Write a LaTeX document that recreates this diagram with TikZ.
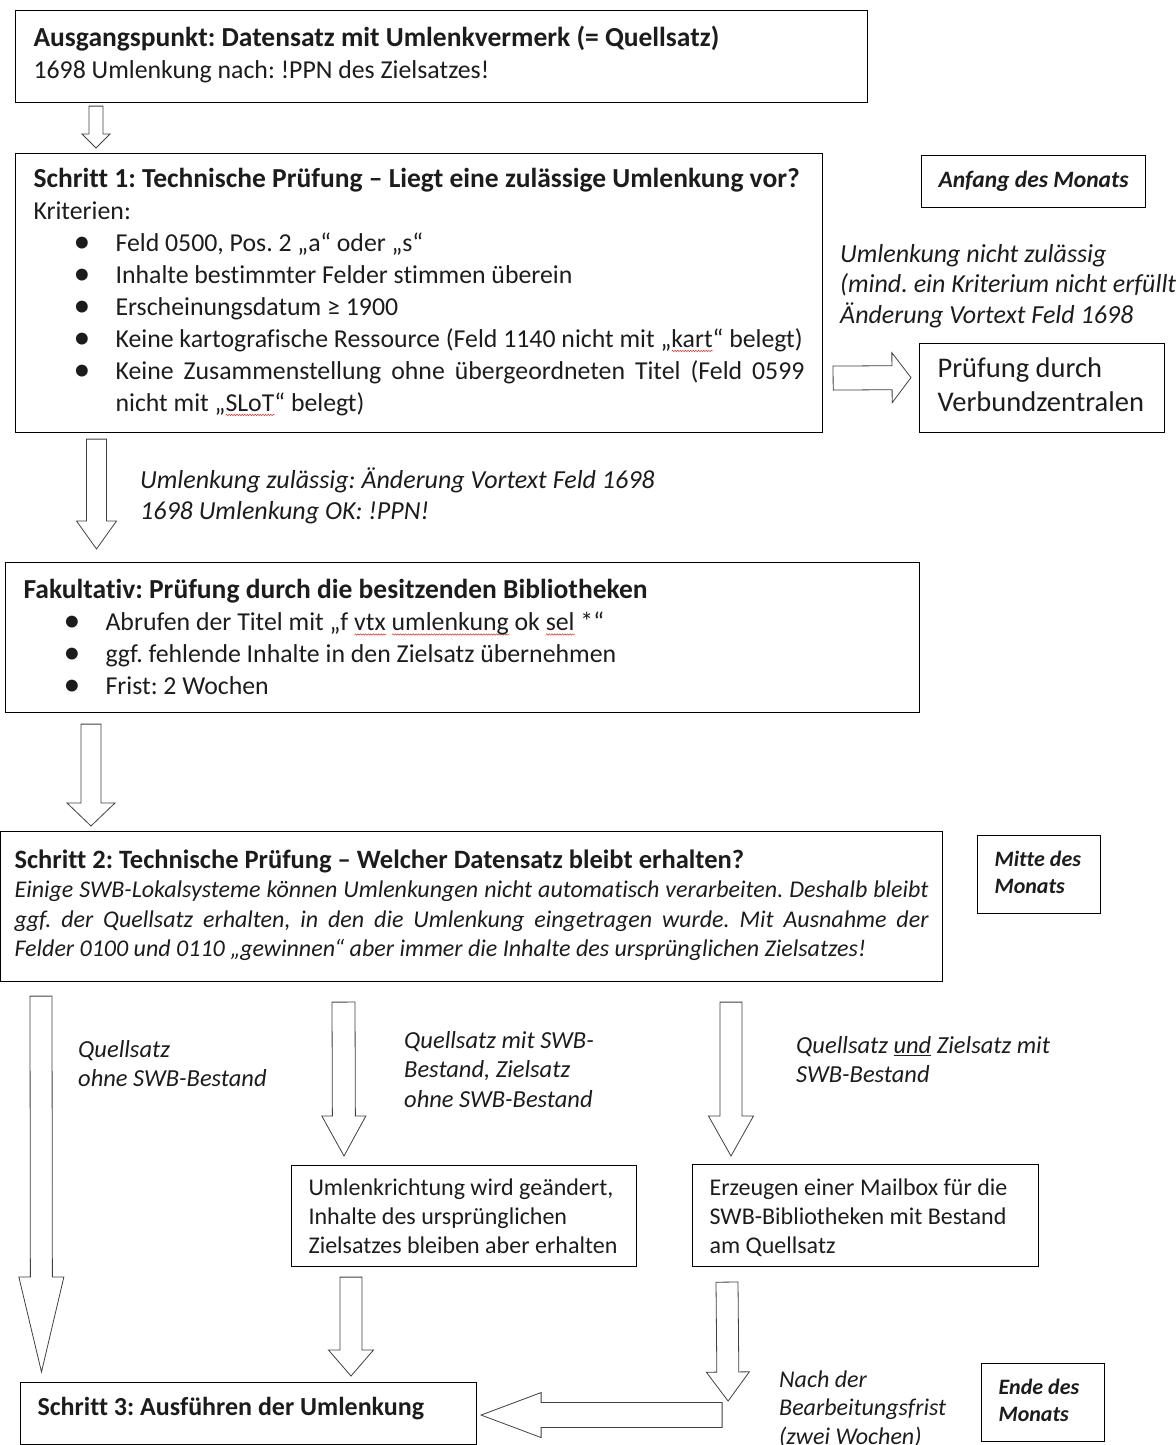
\documentclass[tikz,border=0pt]{standalone}
\usepackage{fontspec}
\setmainfont[Ligatures={NoCommon}]{Carlito}
\frenchspacing
\usetikzlibrary{calc,positioning,decorations.pathmorphing}
\definecolor{ink}{RGB}{28,28,28}
\definecolor{arr}{RGB}{64,64,64}
\definecolor{spell}{RGB}{230,40,40}
% red squiggle of the spell checker
\newsavebox{\wordbox}
\newcommand{\squiggle}[1]{\sbox{\wordbox}{#1}\rlap{\tikz[baseline=0pt]\draw[spell,line width=0.5pt,decorate,
  decoration={snake,amplitude=0.7pt,segment length=2.6pt}] (0pt,-3.5pt) -- (\wd\wordbox,-3.5pt);}\usebox{\wordbox}}
% bullet line with hanging indent
\newcommand{\critem}[1]{\par\noindent\hangindent=82pt\hangafter=1\hspace*{40pt}\makebox[42pt][l]{\raisebox{-1pt}{\scalebox{1.3}{\textbullet}}}#1\par}
\newcommand{\headfont}{\bfseries\fontsize{27.5}{32}\selectfont}
% hollow block arrow: from, to, shaft half width, head half width, head length
\newcommand{\hollowarrow}[5]{%
  \coordinate (ha) at ($(#2)!#5!(#1)$);
  \draw[blockarrow] ($(#1)!#3!90:(#2)$) -- ($(ha)!#3!-90:(#1)$) -- ($(ha)!#4!-90:(#1)$)
    -- (#2) -- ($(ha)!#4!90:(#1)$) -- ($(ha)!#3!90:(#1)$) -- ($(#1)!#3!-90:(#2)$) -- cycle;}
\tikzset{
  panel/.style={draw=black,line width=1.1pt,anchor=north west,inner ysep=0pt,text=ink,
    font=\fontsize{25.8}{32}\selectfont},
  tag/.style={panel,inner xsep=17pt,align=flush left,font=\bfseries\itshape\fontsize{22}{27}\selectfont},
  note/.style={anchor=north west,inner sep=0pt,align=flush left,text=ink,font=\itshape\fontsize{24.5}{29}\selectfont},
  blockarrow/.style={draw=arr,fill=white,line width=0.8pt,line join=miter},
}
\begin{document}
\begin{tikzpicture}[x=1pt,y=-1pt]
\useasboundingbox (0,0) rectangle (1175,1445);

% boxes
\node[panel,inner xsep=18pt,minimum width=852pt,minimum height=92pt,text width=816pt,align=flush left]
  (start) at (15,10) {\strut{\headfont Ausgangspunkt: Datensatz mit Umlenkvermerk (= Quellsatz)}\\
  1698 Umlenkung nach: !PPN des Zielsatzes!\strut};

\node[panel,inner xsep=18pt,minimum width=807pt,minimum height=279pt,text width=771pt,align=justify]
  (crit) at (15,153) {\noindent\strut{\headfont Schritt 1: Technische Prüfung – Liegt eine zulässige Umlenkung vor?}\par
  \noindent Kriterien:\par
  \critem{Feld 0500, Pos. 2 „a“ oder „s“}
  \critem{Inhalte bestimmter Felder stimmen überein}
  \critem{Erscheinungsdatum ≥ 1900}
  \critem{Keine kartografische Ressource (Feld 1140 nicht mit „\squiggle{kart}“ belegt)}
  \critem{Keine Zusammenstellung ohne übergeordneten Titel (Feld 0599\linebreak nicht mit „\squiggle{SLoT}“ belegt)\strut}};

\node[tag,inner xsep=15pt,minimum width=224pt,minimum height=52pt,align=center,font=\bfseries\itshape\fontsize{23.5}{29}\selectfont]
  (anfang) at (921,155) {Anfang des Monats};

\node[panel,inner xsep=18pt,minimum width=245pt,minimum height=89pt,text width=209pt,align=flush left,
  font=\fontsize{28.5}{34}\selectfont] (verbund) at (919,343) {\strut Prüfung durch\\ Verbundzentralen\strut};

\node[panel,inner xsep=18pt,minimum width=914pt,minimum height=150pt,text width=878pt,align=flush left]
  (fakult) at (5,562) {\rule{0pt}{28.4pt}{\headfont Fakultativ: Prüfung durch die besitzenden Bibliotheken}\par
  \critem{Abrufen der Titel mit „f \squiggle{vtx} \squiggle{umlenkung} ok \squiggle{sel} *“}
  \critem{ggf. fehlende Inhalte in den Zielsatz übernehmen}
  \critem{Frist: 2 Wochen\strut}};

\node[panel,inner xsep=13pt,minimum width=942pt,minimum height=150pt,text width=914pt,align=justify,
  font=\fontsize{24}{29.5}\selectfont] (step2) at (0,831)
  {\noindent\strut{\bfseries\fontsize{26.5}{29.5}\selectfont Schritt 2: Technische Prüfung – Welcher Datensatz bleibt erhalten?}\par
  \noindent\itshape Einige SWB-Lokalsysteme können Umlenkungen nicht automatisch verarbeiten. Deshalb bleibt\linebreak
  ggf. der Quellsatz erhalten, in den die Umlenkung eingetragen wurde. Mit Ausnahme der\linebreak
  Felder 0100 und 0110 „gewinnen“ aber immer die Inhalte des ursprünglichen Zielsatzes!\strut};

\node[tag,minimum width=123pt,minimum height=78pt,text width=89pt] (mitte) at (977,835) {\strut Mitte des\\ Monats\strut};

\node[panel,inner xsep=17pt,minimum width=345pt,minimum height=101pt,text width=311pt,align=flush left,
  font=\fontsize{24}{29}\selectfont] (umlenk) at (291,1165)
  {\rule{0pt}{26.3pt}Umlenkrichtung wird geändert,\\ Inhalte des ursprünglichen\\ Zielsatzes bleiben aber erhalten\strut};

\node[panel,inner xsep=17pt,minimum width=346pt,minimum height=102pt,text width=312pt,align=flush left,
  font=\fontsize{24}{29}\selectfont] (mailbox) at (692,1164)
  {\rule{0pt}{26.3pt}Erzeugen einer Mailbox für die\\ SWB-Bibliotheken mit Bestand\\ am Quellsatz\strut};

\node[panel,inner xsep=17pt,minimum width=456pt,minimum height=62pt,text width=422pt,align=flush left]
  (step3) at (20,1382) {\strut{\bfseries\fontsize{26}{32}\selectfont Schritt 3: Ausführen der Umlenkung}\rule[-17.6pt]{0pt}{0pt}};

\node[tag,minimum width=123pt,minimum height=78pt,text width=89pt] (ende) at (981,1363) {\strut Ende des\\ Monats\strut};

% labels
\node[note,font=\itshape\fontsize{26}{30.5}\selectfont] (nichtok) at (840,240.6)
  {\strut Umlenkung nicht zulässig\\ (mind. ein Kriterium nicht erfüllt\\ Änderung Vortext Feld 1698};
\node[note,font=\itshape\fontsize{26}{31}\selectfont] (zulok) at (140,466.3)
  {\strut Umlenkung zulässig: Änderung Vortext Feld 1698\\ 1698 Umlenkung OK: !PPN!};
\node[note] (ohne) at (78,1036.7) {\strut Quellsatz\\ ohne SWB-Bestand};
\node[note,font=\itshape\fontsize{24.5}{29.5}\selectfont] (mitswb) at (404,1027.4)
  {\strut Quellsatz mit SWB-\\ Bestand, Zielsatz\\ ohne SWB-Bestand};
\node[note] (beide) at (796,1032.7) {\strut Quellsatz \underline{und} Zielsatz mit\\ SWB-Bestand};
\node[note,font=\itshape\fontsize{24}{28.5}\selectfont] (frist) at (779,1367)
  {\strut Nach der\\ Bearbeitungsfrist\\ (zwei Wochen)};

% arrows
\coordinate (s1a) at ($(start.south west)+(81,3)$);
\coordinate (s1b) at ($(crit.north west)+(81,-5)$);
\hollowarrow{s1a}{s1b}{7pt}{14pt}{14pt}
\coordinate (s2a) at ($(crit.south west)+(81.5,6)$);
\coordinate (s2b) at ($(fakult.north west)+(91.5,-13)$);
\hollowarrow{s2a}{s2b}{10pt}{20pt}{28pt}
\coordinate (s3a) at ($(fakult.south west)+(86,11)$);
\coordinate (s3b) at ($(step2.north west)+(91,-5)$);
\hollowarrow{s3a}{s3b}{10pt}{24pt}{23pt}
\coordinate (rja) at ($(crit.south east)+(10,-55)$);
\coordinate (rjb) at ($(verbund.west)+(-8,-10.5)$);
\hollowarrow{rja}{rjb}{12pt}{25pt}{19pt}
\coordinate (qa) at ($(step2.south west)+(41,14)$);
\coordinate (qb) at ($(step3.north west)+(21.5,-10)$);
\hollowarrow{qa}{qb}{11pt}{22.5pt}{95pt}
\coordinate (ma) at ($(step2.south west)+(343.5,20)$);
\coordinate (mb) at ($(umlenk.north west)+(53,-9)$);
\hollowarrow{ma}{mb}{11.5pt}{22pt}{40pt}
\coordinate (na) at ($(step2.south west)+(731,20)$);
\coordinate (nb) at ($(mailbox.north west)+(39,-8)$);
\hollowarrow{na}{nb}{11pt}{22.5pt}{40pt}
\coordinate (ua) at ($(umlenk.south west)+(60,10)$);
\coordinate (ub) at ($(step3.north west)+(331,-6)$);
\hollowarrow{ua}{ub}{11pt}{22.5pt}{26pt}
\coordinate (la) at ($(step3.east)+(245,1.5)$);
\coordinate (lb) at ($(step3.east)+(4,1.5)$);
\hollowarrow{la}{lb}{12.5pt}{22.5pt}{60pt}
\coordinate (ba) at ($(mailbox.south west)+(35,15)$);
\coordinate (bb) at ($(step3.north east)+(251,19)$);
\hollowarrow{ba}{bb}{11pt}{21.5pt}{29pt}
\end{tikzpicture}
\end{document}
